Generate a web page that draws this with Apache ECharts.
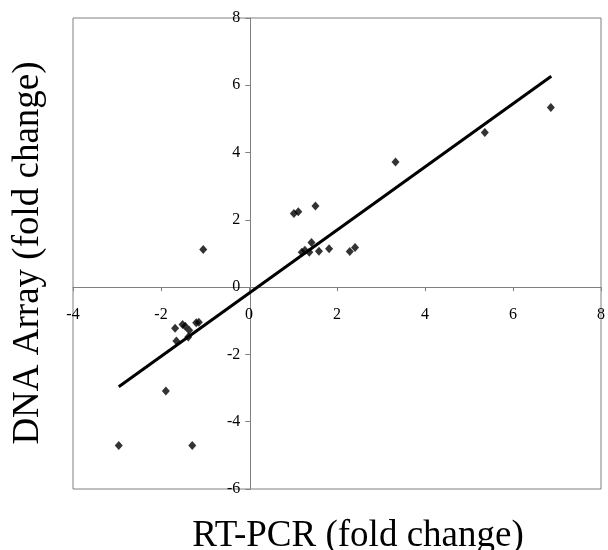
<!DOCTYPE html>
<html>
<head>
<meta charset="utf-8">
<script src="https://cdn.jsdelivr.net/npm/echarts@6/dist/echarts.min.js"></script>
<style>html,body{margin:0;padding:0;background:#fff;}#c{width:608px;height:550px;}</style>
</head>
<body>
<div id="c"></div>
<script>
// RT-PCR fold change (x) vs DNA Array fold change (y)
const rtpcr = [6.86, 5.36, 3.33, 1.02, 1.12, 1.51, 1.42, 1.20, 1.27, 1.37, 1.59, 1.82, 2.29, 2.41, -1.04,
               -1.68, -1.51, -1.45, -1.36, -1.20, -1.14, -1.65, -1.38, -1.89, -2.96, -1.29];
const dnaArray = [5.34, 4.60, 3.72, 2.19, 2.24, 2.41, 1.33, 1.04, 1.10, 1.04, 1.07, 1.14, 1.06, 1.18, 1.12,
                  -1.22, -1.11, -1.16, -1.28, -1.06, -1.04, -1.60, -1.48, -3.09, -4.71, -4.71];
const trendX = [-2.96, 6.87];
const trendY = [-2.96, 6.27];
const xTicks = [-4, -2, 0, 2, 4, 6, 8];
const yTicks = [-6, -4, -2, 0, 2, 4, 6, 8];
const xTitle = 'RT-PCR (fold change)';
const yTitle = 'DNA Array (fold change)';

const chart = echarts.init(document.getElementById('c'), null, {renderer: 'canvas'});
const font = '"Liberation Serif", "Times New Roman", serif';
const axisGray = '#808080';
const G = {left: 73, top: 18, right: 3, bottom: 61};
const gw = 608 - G.left - G.right, gh = 550 - G.top - G.bottom;
const xMin = xTicks[0], xMax = xTicks[xTicks.length - 1];
const yMin = yTicks[0], yMax = yTicks[yTicks.length - 1];
// shift axes so they cross at the zero point (axis line, ticks and labels together)
const yAxisOffset = -gw * (0 - xMin) / (xMax - xMin);
const xAxisOffset = -gh * (0 - yMin) / (yMax - yMin);
chart.setOption({
  animation: false,
  backgroundColor: '#ffffff',
  grid: {left: G.left, top: G.top, right: G.right, bottom: G.bottom, show: true, borderColor: axisGray, borderWidth: 1, backgroundColor: 'transparent'},
  xAxis: {
    type: 'value', min: xMin, max: xMax, interval: 2, position: 'bottom', offset: xAxisOffset,
    axisLine: {show: true, onZero: false, lineStyle: {color: axisGray, width: 1}},
    axisTick: {show: true, inside: false, length: 4, lineStyle: {color: axisGray}},
    axisLabel: {show: true, margin: 20, color: '#000', fontFamily: font, fontSize: 16, showMinLabel: true, showMaxLabel: true},
    splitLine: {show: false}
  },
  yAxis: {
    type: 'value', min: yMin, max: yMax, interval: 2, position: 'left', offset: yAxisOffset,
    axisLine: {show: true, onZero: false, lineStyle: {color: axisGray, width: 1}},
    axisTick: {show: true, inside: false, length: 5, lineStyle: {color: axisGray}},
    axisLabel: {show: true, margin: 10, color: '#000', fontFamily: font, fontSize: 16, showMinLabel: true, showMaxLabel: true},
    splitLine: {show: false}
  },
  graphic: [
    {type: 'text', x: 358, y: 536, style: {text: xTitle, font: '37px ' + font, fill: '#000', textAlign: 'center', textVerticalAlign: 'middle'}},
    {type: 'text', x: 28, y: 253, rotation: Math.PI / 2, style: {text: yTitle, font: '37px ' + font, fill: '#000', textAlign: 'center', textVerticalAlign: 'middle'}}
  ],
  series: [
    {
      type: 'line', data: trendX.map((v, i) => [v, trendY[i]]), showSymbol: false, symbol: 'none',
      lineStyle: {color: '#000', width: 3}, z: 3
    },
    {
      type: 'scatter', data: rtpcr.map((v, i) => [v, dnaArray[i]]), symbol: 'diamond', symbolSize: [8, 9],
      itemStyle: {color: '#000'}, z: 4
    }
  ]
});
</script>
</body>
</html>
